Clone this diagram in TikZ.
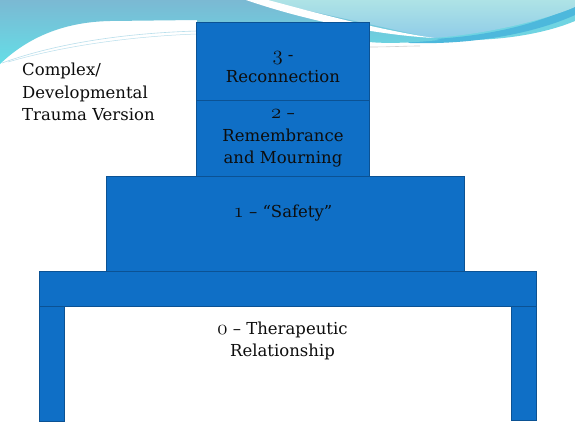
\documentclass[tikz,border=0pt]{standalone}
\usepackage{fontspec}
\setmainfont{DejaVu Serif}
% old-style figures taken from the Latin Modern bold math italic font
\newcommand\osn[1]{{\fontsize{20}{20}\usefont{OML}{lmm}{b}{it}#1}}
\definecolor{tierfill}{HTML}{0F6FC6}
\definecolor{tieredge}{HTML}{0B5294}
\definecolor{waveblue}{HTML}{7BB9D3}
\definecolor{wavecyan}{HTML}{64DEE7}
\definecolor{wavetealtop}{HTML}{AEE3E6}
\definecolor{wavetealbot}{HTML}{8FCCE8}
\definecolor{waveband}{HTML}{4DB8DC}
\definecolor{wavelow}{HTML}{70D4E2}
\definecolor{waveline}{HTML}{B9DFEC}
\begin{document}
\begin{tikzpicture}[x=1pt,y=-1pt,
  tier/.style={draw=tieredge, line width=0.8pt, fill=tierfill, inner sep=0pt},
  tiertext/.style={font=\fontsize{16.5}{22.5}\selectfont, align=center, text=black!95, inner sep=0pt},
  sidetext/.style={font=\fontsize{16.5}{22.5}\selectfont, align=left, text=black!95, inner sep=0pt, anchor=west}]
\useasboundingbox (0,0) rectangle (575,431);
\fill[white] (0,0) rectangle (575,431);

% decorative swoosh along the top edge
\fill[wavelow] (330,18) .. controls (420,50) and (520,44) .. (575,21) -- (575,0) -- (330,0) -- cycle;
\fill[waveband] (400,40) .. controls (480,40) and (540,24) .. (575,5) -- (575,15) .. controls (540,31) and (480,45) .. (410,43) -- cycle;
\shade[top color=wavetealtop, bottom color=wavetealbot]
  (250,0) -- (575,0) -- (575,7) .. controls (540,22) and (480,35) .. (432,38) -- (360,35) -- (250,5) -- cycle;
\shade[top color=waveblue, bottom color=wavecyan]
  (0,0) -- (260,0) -- (440,40) .. controls (400,44) and (380,43) .. (369,42) -- (369,26) -- (197,26) -- (197,20)
  -- (110,21) .. controls (60,22) and (25,40) .. (0,64) -- cycle;
\fill[white] (268,0) .. controls (320,14) and (380,30) .. (434,38) .. controls (380,35) and (310,22) .. (246,0) -- cycle;
\draw[waveline, line width=0.6pt] (2,63) .. controls (60,42) and (130,33) .. (197,31);
\draw[waveline, line width=0.5pt] (8,62) .. controls (70,44) and (140,36) .. (197,34);
\draw[black!18, line width=0.6pt] (370,47) .. controls (390,47) and (405,46) .. (420,46);

% table: legs, top, and the stacked tiers
\node[tier, minimum width=24.7pt, minimum height=115pt] (legl) at (51.65,363.5) {};
\node[tier, minimum width=25pt, minimum height=114pt] (legr) at (523.5,363) {};
\node[tier, minimum width=496.7pt, minimum height=34.5pt] (tabletop) at (287.65,288.75) {};
\node[tier, minimum width=358pt, minimum height=95.5pt] (tier1) at (285,223.75) {};
\node[tier, minimum width=172.6pt, minimum height=76pt] (tier2) at (283,138) {};
\node[tier, minimum width=172.6pt, minimum height=77.3pt] (tier3) at (283,61.35) {};

% labels
\node[tiertext] (t3) at (283,67) {\osn{3} -\\Reconnection};
\node[tiertext] (t2) at (283,138.8) {\osn{2} –\\Remembrance\\and Mourning};
\node[tiertext] (t1) at (283,213.4) {\osn{1} – “Safety”};
\node[tiertext] (t0) at (282.5,341) {\osn{0} – Therapeutic\\Relationship};
\node[sidetext] (title) at (22,92) {Complex/\\Developmental\\Trauma Version};
\end{tikzpicture}
\end{document}
